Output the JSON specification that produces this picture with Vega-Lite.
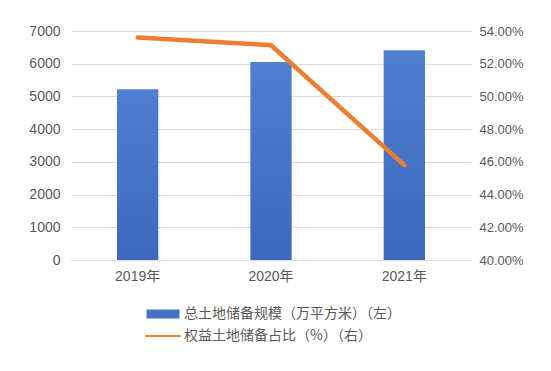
{
  "$schema": "https://vega.github.io/schema/vega-lite/v6.json",
  "width": 400,
  "height": 229,
  "autosize": {"type": "none"},
  "padding": {"left": 71, "top": 31, "right": 80, "bottom": 111},
  "background": "white",
  "config": {
    "view": {"stroke": null},
    "font": "Liberation Sans, Noto Sans CJK SC",
    "axis": {"labelColor": "#595959", "labelFontSize": 14, "labelFont": "Liberation Sans, Noto Sans CJK SC"},
    "legend": {"labelColor": "#595959", "labelFontSize": 14, "labelFont": "Noto Sans CJK SC, Liberation Sans"}
  },
  "data": {
    "values": [
      {"year": "2019年", "area": 5220, "ratio": 0.536},
      {"year": "2020年", "area": 6050, "ratio": 0.5313},
      {"year": "2021年", "area": 6410, "ratio": 0.458}
    ]
  },
  "encoding": {
    "x": {
      "field": "year",
      "type": "nominal",
      "sort": null,
      "scale": {"paddingInner": 0.69, "paddingOuter": 0.345},
      "axis": {"title": null, "labelAngle": 0, "ticks": false, "domainColor": "#d9d9d9", "labelPadding": 9}
    }
  },
  "layer": [
    {
      "mark": {
        "type": "bar",
        "strokeWidth": 0,
        "fill": {
          "x1": 0, "y1": 0, "x2": 0, "y2": 1,
          "gradient": "linear",
          "stops": [
            {"offset": 0, "color": "#4f7fd0"},
            {"offset": 1, "color": "#3d68bd"}
          ]
        }
      },
      "encoding": {
        "y": {
          "field": "area",
          "type": "quantitative",
          "scale": {"domain": [0, 7000], "nice": false},
          "axis": {
            "title": null,
            "values": [0, 1000, 2000, 3000, 4000, 5000, 6000, 7000],
            "format": "d",
            "grid": true,
            "gridColor": "#d9d9d9",
            "domain": false,
            "ticks": false,
            "labelPadding": 11
          }
        },
        "stroke": {
          "datum": "总土地储备规模（万平方米）（左）",
          "type": "nominal",
          "scale": {
            "domain": ["总土地储备规模（万平方米）（左）", "权益土地储备占比（%）（右）"],
            "range": ["#4472C4", "#ED7D31"]
          },
          "legend": {
            "title": null,
            "orient": "none",
            "legendX": 81,
            "legendY": 272,
            "direction": "vertical",
            "padding": 0,
            "rowPadding": 4,
            "symbolSize": 484,
            "labelOffset": 10,
            "labelLimit": 400,
            "encode": {
              "symbols": {
                "update": {
                  "shape": {"signal": "datum.index === 0 ? 'M-1.5,-0.4H1.5V0.4H-1.5Z' : 'M-1.6,-0.09H1.6V0.09H-1.6Z'"},
                  "fill": {"signal": "scale('stroke', datum.value)"},
                  "strokeWidth": {"value": 0},
                  "opacity": {"value": 1}
                }
              }
            }
          }
        }
      }
    },
    {
      "mark": {"type": "line", "strokeWidth": 4.5, "strokeCap": "round"},
      "encoding": {
        "y": {
          "field": "ratio",
          "type": "quantitative",
          "scale": {"domain": [0.4, 0.54], "nice": false, "zero": false},
          "axis": {
            "title": null,
            "orient": "right",
            "values": [0.4, 0.42, 0.44, 0.46, 0.48, 0.5, 0.52, 0.54],
            "format": ".2%",
            "labelFontSize": 13,
            "grid": false,
            "domain": false,
            "ticks": false,
            "labelPadding": 8
          }
        },
        "stroke": {
          "datum": "权益土地储备占比（%）（右）",
          "type": "nominal",
          "legend": {
            "title": null,
            "orient": "none",
            "legendX": 81,
            "legendY": 272,
            "direction": "vertical",
            "padding": 0,
            "rowPadding": 4,
            "symbolSize": 484,
            "labelOffset": 10,
            "labelLimit": 400,
            "encode": {
              "symbols": {
                "update": {
                  "shape": {"signal": "datum.index === 0 ? 'M-1.5,-0.4H1.5V0.4H-1.5Z' : 'M-1.6,-0.09H1.6V0.09H-1.6Z'"},
                  "fill": {"signal": "scale('stroke', datum.value)"},
                  "strokeWidth": {"value": 0},
                  "opacity": {"value": 1}
                }
              }
            }
          }
        }
      }
    }
  ],
  "resolve": {"scale": {"y": "independent"}}
}
